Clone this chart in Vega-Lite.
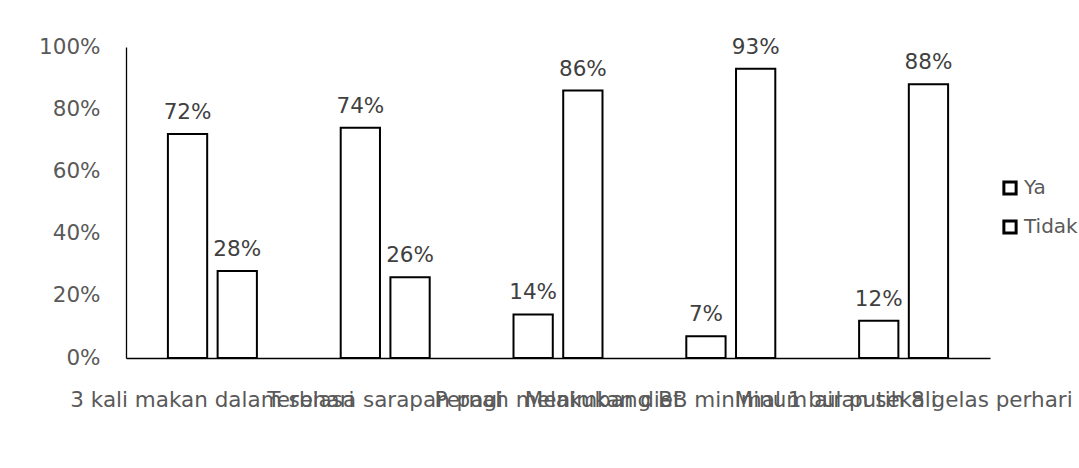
{
  "$schema": "https://vega.github.io/schema/vega-lite/v6.json",
  "width": 864,
  "height": 311,
  "autosize": {"type": "none"},
  "padding": {"left": 126, "top": 47, "right": 89, "bottom": 110},
  "background": "white",
  "config": {
    "view": {"stroke": null},
    "font": "DejaVu Sans"
  },
  "data": {
    "values": [
      {"kategori": "3 kali makan dalam sehari", "jawaban": "Ya", "nilai": 0.72},
      {"kategori": "3 kali makan dalam sehari", "jawaban": "Tidak", "nilai": 0.28},
      {"kategori": "Terbiasa sarapan pagi", "jawaban": "Ya", "nilai": 0.74},
      {"kategori": "Terbiasa sarapan pagi", "jawaban": "Tidak", "nilai": 0.26},
      {"kategori": "Pernah melakukan diet", "jawaban": "Ya", "nilai": 0.14},
      {"kategori": "Pernah melakukan diet", "jawaban": "Tidak", "nilai": 0.86},
      {"kategori": "Menimbang BB minimal 1 bulan sekali", "jawaban": "Ya", "nilai": 0.07},
      {"kategori": "Menimbang BB minimal 1 bulan sekali", "jawaban": "Tidak", "nilai": 0.93},
      {"kategori": "Minum air putih 8 gelas perhari", "jawaban": "Ya", "nilai": 0.12},
      {"kategori": "Minum air putih 8 gelas perhari", "jawaban": "Tidak", "nilai": 0.88}
    ]
  },
  "encoding": {
    "x": {
      "field": "kategori", "type": "nominal", "sort": null, "title": null,
      "scale": {"paddingInner": 0.485, "paddingOuter": 0.2425},
      "axis": {
        "labelAngle": 0, "labelOverlap": false, "labelLimit": 0,
        "labelFontSize": 21.5, "labelColor": "#595959", "labelPadding": 31,
        "ticks": false, "domainColor": "#000000", "domainWidth": 1.3,
        "labelBaseline": "top"
      }
    },
    "xOffset": {
      "field": "jawaban", "type": "nominal", "sort": ["Ya", "Tidak"],
      "scale": {"paddingInner": 0.21, "paddingOuter": 0}
    },
    "y": {
      "field": "nilai", "type": "quantitative", "title": null,
      "scale": {"domain": [0, 1], "nice": false},
      "axis": {
        "format": ".0%", "values": [0, 0.2, 0.4, 0.6, 0.8, 1],
        "grid": false, "ticks": false, "labelFontSize": 21.5, "labelColor": "#595959",
        "labelPadding": 26, "domainColor": "#000000", "domainWidth": 1.3
      }
    }
  },
  "layer": [
    {
      "mark": {"type": "bar", "stroke": "#000000", "strokeWidth": 2},
      "encoding": {
        "color": {
          "field": "jawaban", "type": "nominal", "sort": ["Ya", "Tidak"],
          "scale": {"domain": ["Ya", "Tidak"], "range": ["#ffffff", "#ffffff"]},
          "legend": {
            "title": null, "orient": "none", "legendX": 874, "legendY": 131,
            "symbolType": "square", "symbolSize": 150, "symbolStrokeColor": "#000000",
            "symbolStrokeWidth": 3, "labelFontSize": 20, "labelColor": "#595959",
            "rowPadding": 13, "labelOffset": 4
          }
        }
      }
    },
    {
      "mark": {"type": "text", "baseline": "alphabetic", "dy": -15, "fontSize": 21.5, "fill": "#404040"},
      "encoding": {
        "text": {"field": "nilai", "type": "quantitative", "format": ".0%"}
      }
    }
  ]
}
